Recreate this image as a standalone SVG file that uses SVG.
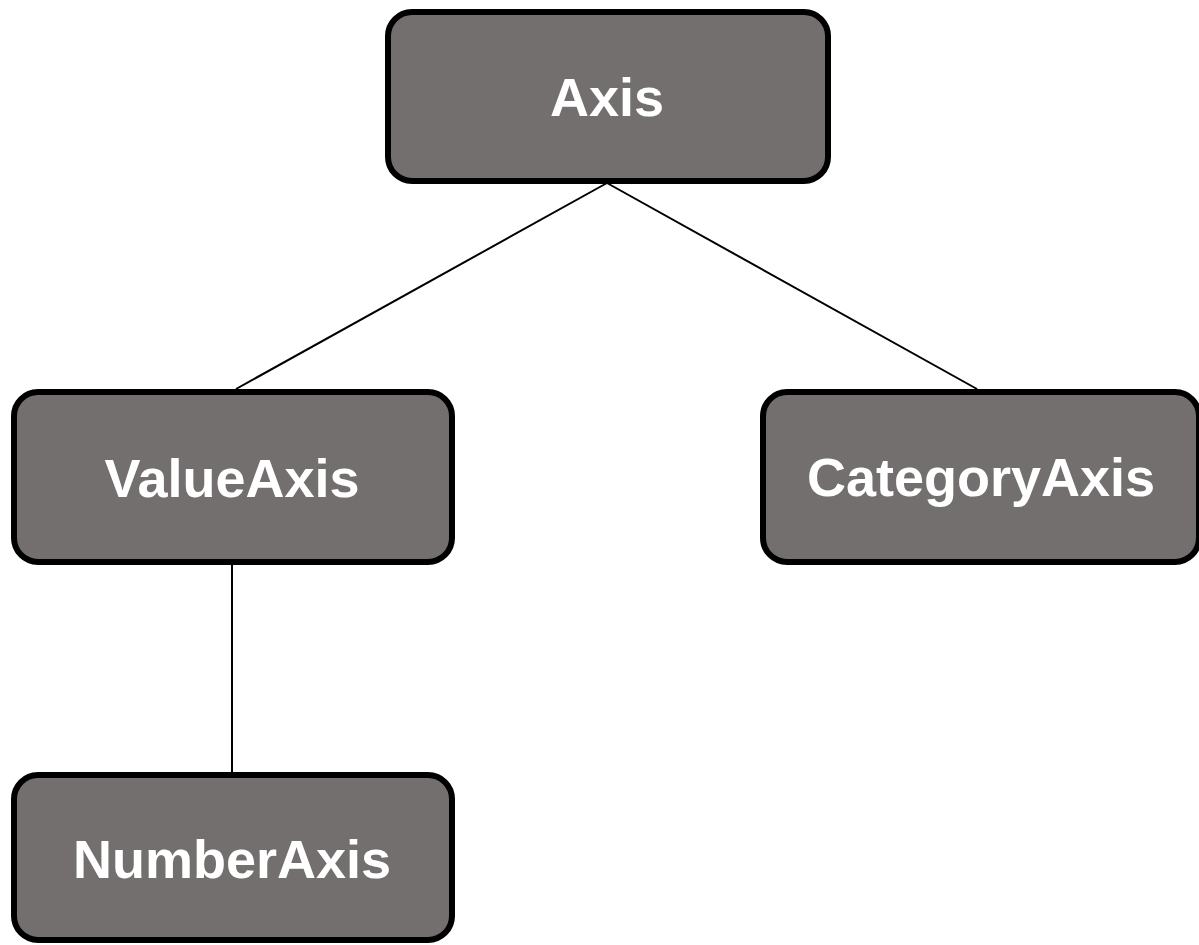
<svg xmlns="http://www.w3.org/2000/svg" width="1199" height="945" viewBox="0 0 1199 945">
<style>
.box{fill:#736F6E;stroke:#000;stroke-width:6}
.lbl{font-family:"Liberation Sans",Arial,sans-serif;font-weight:bold;font-size:54px;fill:#fff;text-anchor:middle}
.edge{stroke:#000;stroke-width:2;fill:none}
</style>
<rect width="1199" height="945" fill="#fff"/>
<g id="connectors">
<line class="edge" x1="607" y1="183" x2="236" y2="389"/>
<line class="edge" x1="607" y1="183" x2="977" y2="389"/>
<line class="edge" x1="232" y1="565" x2="232" y2="773"/>
</g>
<g id="axis">
<rect class="box" x="388" y="12" width="440" height="169" rx="24"/>
<text class="lbl" x="607" y="116">Axis</text>
</g>
<g id="valueaxis">
<rect class="box" x="14" y="392" width="438" height="170" rx="24"/>
<text class="lbl" x="232" y="497">ValueAxis</text>
</g>
<g id="categoryaxis">
<rect class="box" x="763" y="392" width="436" height="170" rx="24"/>
<text class="lbl" x="981" y="496">CategoryAxis</text>
</g>
<g id="numberaxis">
<rect class="box" x="14" y="775" width="438" height="165" rx="24"/>
<text class="lbl" x="232" y="878">NumberAxis</text>
</g>
</svg>
